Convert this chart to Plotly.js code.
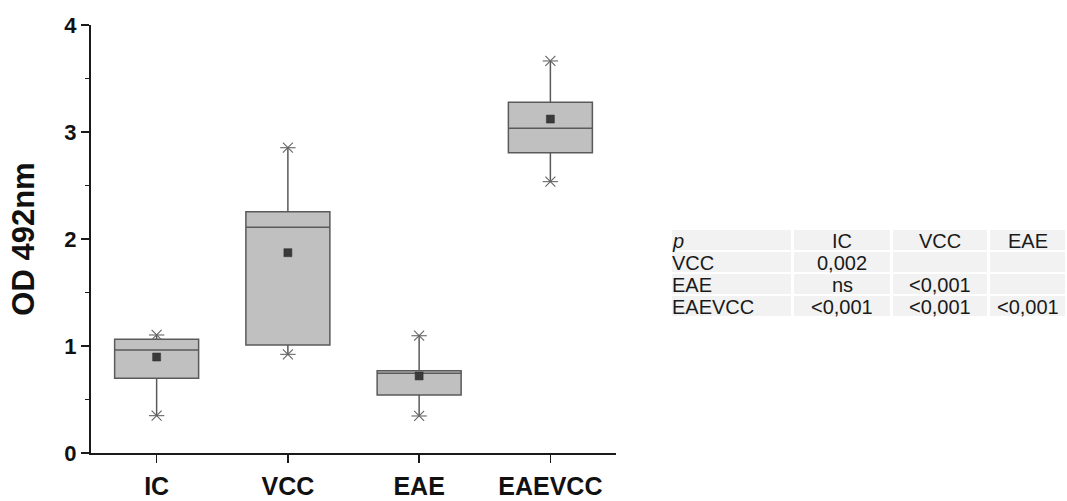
<!DOCTYPE html>
<html>
<head>
<meta charset="utf-8">
<script src="https://cdn.plot.ly/plotly-3.0.1.min.js"></script>
<style>html,body{margin:0;padding:0;background:#fff;}#chart{width:1067px;height:501px;}</style>
</head>
<body>
<div id="chart"></div>
<script>
// ---- data ----
var groups = ['IC', 'VCC', 'EAE', 'EAEVCC'];
var q1Vals     = [0.698, 1.009, 0.542, 2.807];
var medianVals = [0.963, 2.109, 0.745, 3.034];
var q3Vals     = [1.062, 2.255, 0.769, 3.277];
var minVals    = [0.349, 0.922, 0.346, 2.536];
var maxVals    = [1.103, 2.853, 1.096, 3.664];
var meanVals   = [0.897, 1.872, 0.720, 3.121];
var yTicks = [0, 1, 2, 3, 4];

var tableHeader = ['p', 'IC', 'VCC', 'EAE'];
var tableRowLabels = ['VCC', 'EAE', 'EAEVCC'];
var pIC  = ['0,002', 'ns', '<0,001'];
var pVCC = ['', '<0,001', '<0,001'];
var pEAE = ['', '', '<0,001'];

// ---- helpers ----
function esc(s) { return s.replace(/</g, '&lt;').replace(/>/g, '&gt;'); }
var FONT = 'Liberation Sans, Arial, Helvetica, sans-serif';

// plot-area geometry (pixels) used to place the p-value table in paper coordinates
var W = 1067, H = 501, ML = 91, MR = 2, MT = 25, MB = 48;
var PW = W - ML - MR, PH = H - MT - MB;
function pxX(px) { return (px - ML) / PW; }
function pxY(py) { return (H - MB - py) / PH; }

// table layout (pixels)
var colEdges = [[672, 791], [794, 890], [893, 987], [990, 1065]];
var rowTop0 = 230, rowH = 20, rowGap = 2;

var tableRows = [tableHeader].concat(tableRowLabels.map(function (lab, i) {
  return [lab, pIC[i], pVCC[i], pEAE[i]];
}));

var shapes = [], annotations = [];
tableRows.forEach(function (row, r) {
  var top = rowTop0 + r * (rowH + rowGap), bot = top + rowH;
  row.forEach(function (txt, c) {
    var e = colEdges[c];
    shapes.push({
      type: 'rect', xref: 'paper', yref: 'paper', layer: 'below',
      x0: pxX(e[0]), x1: pxX(e[1]), y0: pxY(bot), y1: pxY(top),
      fillcolor: '#f2f2f2', line: {width: 0}
    });
    if (txt !== '') {
      var t = esc(txt);
      if (r === 0 && c === 0) t = '<i>' + t + '</i>';
      annotations.push({
        xref: 'paper', yref: 'paper', showarrow: false,
        x: c === 0 ? pxX(e[0] - 2) : pxX((e[0] + e[1]) / 2),
        xanchor: c === 0 ? 'left' : 'center',
        y: pxY((top + bot) / 2 + 1), yanchor: 'middle',
        text: t,
        font: {family: FONT, size: 20, color: '#1a1a1a'}
      });
    }
  });
});

var boxTrace = {
  type: 'box',
  x: groups,
  q1: q1Vals,
  median: medianVals,
  q3: q3Vals,
  lowerfence: minVals,
  upperfence: maxVals,
  boxpoints: false,
  width: 0.64,
  whiskerwidth: 0,
  fillcolor: '#c0c0c0',
  line: {color: '#5a5a5a', width: 1.5},
  hoverinfo: 'skip',
  showlegend: false
};

var extremesX = groups.concat(groups);
var extremesY = minVals.concat(maxVals);

var starX = {
  type: 'scatter', mode: 'markers',
  x: extremesX, y: extremesY,
  marker: {symbol: 'x-thin-open', size: 10, color: '#666', line: {color: '#666', width: 1.1}},
  hoverinfo: 'skip', showlegend: false
};
var starH = {
  type: 'scatter', mode: 'markers',
  x: extremesX, y: extremesY,
  marker: {symbol: 'line-ew-open', size: 11, color: '#666', line: {color: '#666', width: 1.1}},
  hoverinfo: 'skip', showlegend: false
};
var meanTrace = {
  type: 'scatter', mode: 'markers',
  x: groups, y: meanVals,
  marker: {symbol: 'square', size: 8, color: '#3a3a3a', line: {color: '#2a2a2a', width: 0.5}},
  hoverinfo: 'skip', showlegend: false
};

var layout = {
  width: W, height: H,
  margin: {l: ML, r: MR, t: MT, b: MB},
  paper_bgcolor: '#ffffff',
  plot_bgcolor: '#ffffff',
  font: {family: FONT, color: '#1a1a1a'},
  showlegend: false,
  shapes: shapes,
  annotations: annotations,
  xaxis: {
    domain: [0, pxX(616)],
    type: 'category',
    range: [-0.5, 3.5],
    showline: true, linecolor: '#1a1a1a', linewidth: 2,
    ticks: 'outside', ticklen: 8, tickwidth: 1.5, tickcolor: '#1a1a1a',
    showgrid: false, zeroline: false,
    tickfont: {family: FONT, size: 25, weight: 'bold', color: '#111'},
    ticklabelstandoff: 2
  },
  yaxis: {
    range: [0, 4],
    tickvals: yTicks,
    ticktext: yTicks.map(String),
    showline: true, linecolor: '#1a1a1a', linewidth: 2,
    ticks: 'outside', ticklen: 8, tickwidth: 1.5, tickcolor: '#1a1a1a',
    minor: {tickvals: [0.5, 1.5, 2.5, 3.5], ticks: 'outside', ticklen: 4, tickwidth: 1.2, tickcolor: '#1a1a1a', showgrid: false},
    showgrid: false, zeroline: false,
    tickfont: {family: FONT, size: 22, weight: 'bold', color: '#111'},
    title: {text: 'OD 492nm', font: {family: FONT, size: 31, weight: 'bold', color: '#111'}, standoff: 20}
  }
};

Plotly.newPlot('chart', [boxTrace, starX, starH, meanTrace], layout, {staticPlot: true, displayModeBar: false});
</script>
</body>
</html>
